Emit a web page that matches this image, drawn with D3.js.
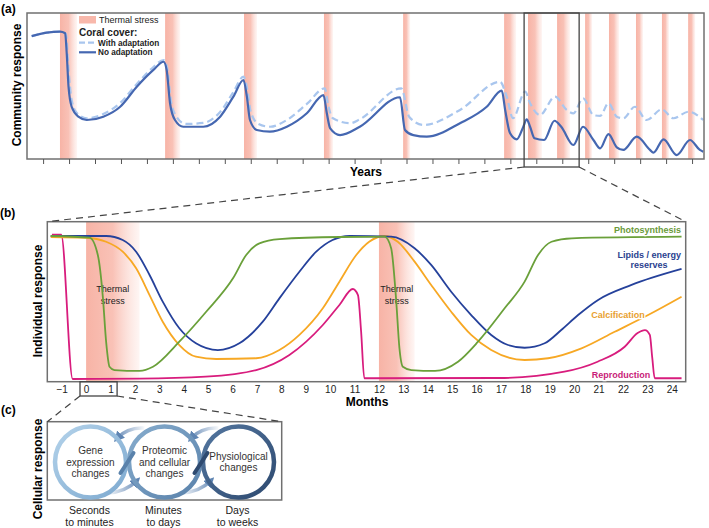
<!DOCTYPE html>
<html>
<head>
<meta charset="utf-8">
<script src="https://cdn.jsdelivr.net/npm/d3@7"></script>
<style>
  body { margin: 0; background: #fff; }
  text { font-family: "Liberation Sans", Arial, sans-serif; }
</style>
</head>
<body>
<svg id="fig" width="709" height="528"></svg>
<script>
// ---------- panel (a): community response over years ----------
const yearTicks = d3.range(0, 26);
// thermal stress events [start, end] in years
const stressYears = [[0.65, 1.31], [4.70, 5.28], [7.74, 8.24], [10.82, 11.17], [13.87, 14.14],
  [17.76, 18.22], [18.68, 19.22], [19.80, 20.30], [20.88, 21.15], [21.80, 22.19],
  [22.84, 23.11], [23.84, 24.11], [24.85, 25.12]];
// coral cover, no adaptation [year, cover]
const noAdaptation = [[-0.44, 84.2], [0.14, 86.5], [0.65, 87.2], [0.85, 86.1], [0.91, 72.4], [0.98, 49.5],
  [1.1, 35.8], [1.36, 29.0], [1.68, 26.7], [2.32, 29.0], [2.97, 35.8], [3.61, 49.5], [4.25, 61.0],
  [4.64, 66.6], [4.76, 61.0], [4.89, 38.2], [5.08, 26.7], [5.4, 22.1], [6.17, 22.1], [6.82, 29.0],
  [7.33, 42.7], [7.72, 54.1], [7.85, 42.7], [7.97, 26.7], [8.23, 19.9], [8.74, 18.7], [9.39, 22.1],
  [10.16, 31.3], [10.8, 43.8], [10.93, 31.3], [11.06, 21.0], [11.44, 16.4], [12.2, 22.1], [13.75, 42.3],
  [13.94, 19.9], [14.26, 16.4], [14.78, 15.3], [16.06, 24.5], [17.09, 35.8], [17.67, 46.8], [17.8, 33.6],
  [17.99, 17.6], [18.25, 13.5], [18.5, 22.1], [18.63, 27.2], [18.76, 22.1], [18.93, 14.2], [19.3, 13.0],
  [19.7, 26.2], [19.96, 22.1], [20.43, 9.6], [20.8, 22.1], [21.2, 13.0], [21.46, 7.3], [21.78, 17.1],
  [22.1, 8.0], [22.35, 6.2], [22.87, 15.3], [23.38, 6.2], [23.51, 4.3], [23.9, 13.5], [24.41, 2.7],
  [24.92, 13.0], [25.3, 6.2], [25.43, 5.0]];
// coral cover, with adaptation [year, cover]
const withAdaptation = [[-0.44, 84.2], [0.14, 86.5], [0.65, 87.2], [0.88, 85.6], [0.98, 61.0], [1.1, 40.4],
  [1.3, 31.5], [1.68, 27.9], [2.32, 30.8], [2.97, 38.4], [3.61, 51.4], [4.25, 63.0], [4.64, 67.8],
  [4.78, 62.3], [4.92, 40.4], [5.1, 30.1], [5.5, 24.0], [6.17, 24.7], [6.82, 32.2], [7.33, 45.9],
  [7.72, 56.4], [7.87, 47.3], [8.0, 32.2], [8.3, 24.0], [8.74, 22.1], [9.39, 26.7], [10.16, 37.7],
  [10.85, 48.4], [10.98, 37.0], [11.15, 28.1], [11.83, 24.5], [12.2, 27.2], [13.8, 48.4], [14.1, 29.0],
  [14.65, 23.3], [16.06, 33.6], [17.6, 52.9], [17.86, 42.7], [18.1, 27.9], [18.57, 46.1], [18.76, 38.2],
  [19.14, 30.1], [19.72, 42.7], [20.17, 33.6], [20.43, 31.3], [20.8, 41.6], [21.2, 30.1], [21.46, 29.5],
  [21.78, 38.2], [22.1, 29.0], [22.35, 27.9], [22.8, 35.8], [23.25, 26.7], [23.83, 34.0], [24.28, 27.9],
  [24.86, 32.4], [25.43, 26.7]];
const zoomYears = [18.53, 20.65];

// ---------- panel (b): individual response over months ----------
const monthTicks = d3.range(-1, 25);
const stressMonths = [[0, 2.19], [12, 13.46]];
const photosynthesis = [[-1.45, 100], [0.14, 98.8], [0.48, 86.8], [0.69, 56.9], [0.82, 26.6], [0.96, 9.2],
  [1.16, 6.9], [2.19, 6.3], [2.74, 9.2], [3.82, 26.6], [4.92, 47.4], [6.02, 70.6], [6.56, 86.8],
  [7.1, 94.9], [7.92, 97.9], [10.4, 99.3], [12.23, 99.5], [12.5, 91.5], [12.7, 56.7], [12.84, 22.0],
  [12.98, 9.2], [13.33, 6.9], [14.3, 6.3], [15.24, 12.7], [16.06, 26.6], [17.15, 49.8], [17.97, 68.3],
  [18.52, 86.8], [19.07, 96.0], [19.9, 98.4], [24.4, 99.5]];
const lipids = [[-1.45, 100], [0.82, 100], [1.5, 97.2], [2.05, 89.1], [2.6, 72.9], [3.14, 54.4],
  [3.82, 35.9], [4.5, 25.5], [5.4, 20.8], [6.28, 25.5], [7.24, 40.5], [7.92, 56.7], [8.74, 75.2],
  [9.43, 89.1], [10.1, 97.2], [10.8, 100], [12.5, 99.5], [13.46, 91.5], [14.14, 79.9], [14.96, 61.3],
  [15.78, 45.1], [16.6, 31.3], [17.29, 24.3], [17.97, 22.4], [18.79, 25.5], [19.47, 34.7],
  [20.16, 45.1], [20.98, 55.6], [22.35, 66.0], [24.4, 77.1]];
const calcification = [[-1.45, 99.3], [0, 98.8], [0.82, 96.0], [1.5, 89.1], [2.05, 77.6], [2.6, 59.0],
  [3.14, 40.5], [3.82, 24.3], [4.5, 16.2], [5.33, 14.6], [6.97, 15.1], [7.92, 20.8], [8.74, 31.3],
  [9.7, 49.8], [10.38, 68.3], [11.07, 86.8], [11.6, 96.0], [12.23, 100], [12.77, 96.0], [13.46, 82.2],
  [14.14, 66.0], [14.96, 47.4], [15.78, 31.3], [16.6, 20.8], [17.97, 13.9], [18.93, 15.1],
  [20.3, 22.0], [21.66, 33.5], [23.03, 45.1], [24.4, 57.8]];
const reproduction = [[-1.4, 101], [-1.02, 101], [-0.55, 0.7], [2.19, 0.9], [4.9, 2.3], [6.97, 6.9],
  [8.33, 17.4], [9.7, 38.2], [10.38, 52.1], [10.93, 63.2], [11.14, 59.0], [11.27, 33.5], [11.4, 1.2],
  [16.9, 1.4], [19.6, 5.8], [20.96, 12.7], [22.07, 23.1], [22.6, 32.6], [22.9, 34.7], [23.1, 31.3],
  [23.2, 15.3], [23.3, 1.2], [24.4, 1.2]];
const zoomMonths = [-0.25, 1.27];

// ---------- panel (c): cellular response ----------
const cellSteps = [["Gene", "expression", "changes"], ["Proteomic", "and cellular", "changes"],
  ["Physiological", "changes"]];
const cellTimes = [["Seconds", "to minutes"], ["Minutes", "to days"], ["Days", "to weeks"]];

const svg = d3.select("#fig");
const defs = svg.append("defs");

const heat = defs.append("linearGradient").attr("id", "heat");
heat.append("stop").attr("offset", 0).attr("stop-color", "#f6a696").attr("stop-opacity", 0.85);
heat.append("stop").attr("offset", 0.5).attr("stop-color", "#f7ad9e").attr("stop-opacity", 0.75);
heat.append("stop").attr("offset", 1).attr("stop-color", "#fbcfc5").attr("stop-opacity", 0.2);

const grey = "#707070";

// ===== (a) =====
const A = { l: 27, r: 704, t: 13, b: 159 };
const xA = d3.scaleLinear().domain([-0.62, 25.46]).range([A.l, A.r]);
const yA = d3.scaleLinear().domain([0, 100]).range([A.b, A.t]);

svg.append("g").selectAll("rect").data(stressYears).join("rect")
  .attr("x", d => xA(d[0])).attr("width", d => xA(d[1]) - xA(d[0]))
  .attr("y", A.t).attr("height", A.b - A.t)
  .attr("fill", "url(#heat)");

const lineA = d3.line().x(d => xA(d[0])).y(d => yA(d[1])).curve(d3.curveMonotoneX);
svg.append("path").attr("d", lineA(withAdaptation)).attr("fill", "none")
  .attr("stroke", "#a9c6ee").attr("stroke-width", 2.2).attr("stroke-dasharray", "7,4");
svg.append("path").attr("d", lineA(noAdaptation)).attr("fill", "none")
  .attr("stroke", "#4567b1").attr("stroke-width", 2.2);

svg.append("rect").attr("x", A.l).attr("y", A.t).attr("width", A.r - A.l).attr("height", A.b - A.t)
  .attr("fill", "none").attr("stroke", grey).attr("stroke-width", 1.5);

const axA = svg.append("g").attr("transform", `translate(0,${A.b})`)
  .call(d3.axisBottom(xA).tickValues(yearTicks).tickSize(5).tickFormat(""));
axA.select(".domain").remove();
axA.selectAll("line").attr("stroke", "#555");

// zoom window
svg.append("rect").attr("x", xA(zoomYears[0])).attr("y", A.t)
  .attr("width", xA(zoomYears[1]) - xA(zoomYears[0])).attr("height", 167 - A.t)
  .attr("fill", "none").attr("stroke", "#444").attr("stroke-width", 1.3);

// legend
const lg = svg.append("g");
lg.append("rect").attr("x", 79).attr("y", 16).attr("width", 17).attr("height", 7.5).attr("fill", "#f8b8ab");
lg.append("text").attr("x", 99).attr("y", 23).attr("font-size", 9).attr("fill", "#222").text("Thermal stress");
lg.append("text").attr("x", 79).attr("y", 35.5).attr("font-size", 10).attr("font-weight", "bold").attr("fill", "#222").text("Coral cover:");
lg.append("line").attr("x1", 79).attr("x2", 96).attr("y1", 42.7).attr("y2", 42.7)
  .attr("stroke", "#a9c6ee").attr("stroke-width", 2.2).attr("stroke-dasharray", "6,3");
lg.append("text").attr("x", 98).attr("y", 45.8).attr("font-size", 8.2).attr("font-weight", "bold").attr("fill", "#222").text("With adaptation");
lg.append("line").attr("x1", 79).attr("x2", 96).attr("y1", 52.3).attr("y2", 52.3)
  .attr("stroke", "#4567b1").attr("stroke-width", 2.2);
lg.append("text").attr("x", 98).attr("y", 55.4).attr("font-size", 8.2).attr("font-weight", "bold").attr("fill", "#222").text("No adaptation");

svg.append("text").attr("x", 1).attr("y", 13).attr("font-size", 12).attr("font-weight", "bold").text("(a)");
svg.append("text").attr("transform", "translate(20.5,85) rotate(-90)").attr("text-anchor", "middle")
  .attr("font-size", 12).attr("font-weight", "bold").text("Community response");
svg.append("text").attr("x", 366).attr("y", 176).attr("text-anchor", "middle")
  .attr("font-size", 12).attr("font-weight", "bold").text("Years");

// ===== (b) =====
const B = { l: 47.3, r: 685.7, t: 221.7, b: 381.7 };
const xB = d3.scaleLinear().domain([-1.59, 24.57]).range([B.l, B.r]);
const yB = d3.scaleLinear().domain([0, 100]).range([380, 236]);

svg.append("g").selectAll("rect").data(stressMonths).join("rect")
  .attr("x", d => xB(d[0])).attr("width", d => xB(d[1]) - xB(d[0]))
  .attr("y", B.t).attr("height", B.b - B.t)
  .attr("fill", "url(#heat)");

svg.append("g").selectAll("g").data(stressMonths).join("text")
  .attr("text-anchor", "middle").attr("font-size", 9).attr("fill", "#222")
  .attr("transform", d => `translate(${xB((d[0] + d[1]) / 2)},0)`)
  .call(t => {
    t.append("tspan").attr("x", 0).attr("y", 292).text("Thermal");
    t.append("tspan").attr("x", 0).attr("y", 303.5).text("stress");
  });

const lineB = d3.line().x(d => xB(d[0])).y(d => yB(d[1])).curve(d3.curveMonotoneX);
const seriesB = [
  { data: reproduction, color: "#d81c7d" },
  { data: calcification, color: "#f7a824" },
  { data: lipids, color: "#25419b" },
  { data: photosynthesis, color: "#6aa03a" }
];
svg.append("g").selectAll("path").data(seriesB).join("path")
  .attr("d", d => lineB(d.data)).attr("fill", "none")
  .attr("stroke", d => d.color).attr("stroke-width", 1.8);

svg.append("rect").attr("x", B.l).attr("y", B.t).attr("width", B.r - B.l).attr("height", B.b - B.t)
  .attr("fill", "none").attr("stroke", grey).attr("stroke-width", 1.5);

const axB = svg.append("g").attr("transform", `translate(0,${B.b})`)
  .call(d3.axisBottom(xB).tickValues(monthTicks).tickSize(0).tickPadding(4));
axB.select(".domain").remove();
axB.selectAll("text").attr("font-size", 10).attr("fill", "#222")
  .attr("font-family", "'Liberation Sans', Arial, sans-serif");

const labB = svg.append("g").attr("font-size", 9).attr("font-weight", "bold")
  .attr("stroke", "#fff").attr("stroke-width", 2.5).attr("paint-order", "stroke");
labB.append("text").attr("x", 681).attr("y", 232.5).attr("text-anchor", "end").attr("fill", "#6a9a3a").text("Photosynthesis");
labB.append("text").attr("x", 681).attr("y", 257.5).attr("text-anchor", "end").attr("fill", "#2a3f8f").text("Lipids / energy");
labB.append("text").attr("x", 649).attr("y", 268).attr("text-anchor", "middle").attr("fill", "#2a3f8f").text("reserves");
labB.append("text").attr("x", 618).attr("y", 318).attr("text-anchor", "middle").attr("fill", "#e8a02e").text("Calcification");
labB.append("text").attr("x", 621).attr("y", 377.5).attr("text-anchor", "middle").attr("fill", "#c81c78").text("Reproduction");

svg.append("rect").attr("x", xB(zoomMonths[0])).attr("y", B.b)
  .attr("width", xB(zoomMonths[1]) - xB(zoomMonths[0])).attr("height", 396 - B.b)
  .attr("fill", "none").attr("stroke", "#444").attr("stroke-width", 1.3);

svg.append("text").attr("x", 367).attr("y", 406).attr("text-anchor", "middle")
  .attr("font-size", 12).attr("font-weight", "bold").text("Months");
svg.append("text").attr("x", 0).attr("y", 217).attr("font-size", 12).attr("font-weight", "bold").text("(b)");
svg.append("text").attr("transform", "translate(42,301) rotate(-90)").attr("text-anchor", "middle")
  .attr("font-size", 12).attr("font-weight", "bold").text("Individual response");

// ===== (c) =====
const C = { l: 47.3, r: 281.7, t: 421.7, b: 500 };
const xC = d3.scalePoint().domain(d3.range(cellSteps.length)).range([90.5, 238.5]);
const cyC = 462, rC = 35.5;
const ringColors = [["#b3d2ea", "#7eaad0"], ["#86accd", "#5a82ab"], ["#53769f", "#2e4a70"]];

ringColors.forEach((c, i) => {
  const g = defs.append("linearGradient").attr("id", "ring" + i)
    .attr("x1", 0).attr("y1", 0).attr("x2", 1).attr("y2", 1);
  g.append("stop").attr("offset", 0).attr("stop-color", c[0]);
  g.append("stop").attr("offset", 1).attr("stop-color", c[1]);
});

svg.append("rect").attr("x", C.l).attr("y", C.t).attr("width", C.r - C.l).attr("height", C.b - C.t)
  .attr("fill", "#fff").attr("stroke", grey).attr("stroke-width", 1.5);

// arrows between rings
const arrowDef = defs.append("marker").attr("id", "ah").attr("viewBox", "0 0 10 10")
  .attr("refX", 5).attr("refY", 5).attr("markerWidth", 3).attr("markerHeight", 3)
  .attr("orient", "auto-start-reverse");
arrowDef.append("path").attr("d", "M0,0L10,5L0,10Z").attr("fill", "#5f85b3");

[0, 1].forEach(i => {
  const a = xC(i), b = xC(i + 1), m = (a + b) / 2;
  const gTop = defs.append("linearGradient").attr("id", "at" + i).attr("gradientUnits", "userSpaceOnUse")
    .attr("x1", m + 17).attr("y1", 0).attr("x2", m - 10).attr("y2", 0);
  gTop.append("stop").attr("offset", 0).attr("stop-color", "#5f85b3").attr("stop-opacity", 0.05);
  gTop.append("stop").attr("offset", 1).attr("stop-color", "#5f85b3").attr("stop-opacity", 0.9);
  svg.append("path").attr("d", `M${m + 17},${cyC - 34} Q${m},${cyC - 35} ${m - 10},${cyC - 24}`)
    .attr("fill", "none").attr("stroke", `url(#at${i})`).attr("stroke-width", 3.5).attr("marker-end", "url(#ah)");
  const gBot = defs.append("linearGradient").attr("id", "ab" + i).attr("gradientUnits", "userSpaceOnUse")
    .attr("x1", m - 20).attr("y1", 0).attr("x2", m + 10).attr("y2", 0);
  gBot.append("stop").attr("offset", 0).attr("stop-color", "#5f85b3").attr("stop-opacity", 0.05);
  gBot.append("stop").attr("offset", 1).attr("stop-color", "#5f85b3").attr("stop-opacity", 0.9);
  svg.append("path").attr("d", `M${m - 20},${cyC + 31} Q${m - 2},${cyC + 30} ${m + 9},${cyC + 19}`)
    .attr("fill", "none").attr("stroke", `url(#ab${i})`).attr("stroke-width", 3.5).attr("marker-end", "url(#ah)");
});

svg.append("g").selectAll("circle").data(cellSteps).join("circle")
  .attr("cx", (d, i) => xC(i)).attr("cy", cyC).attr("r", rC)
  .attr("fill", "none").attr("stroke", (d, i) => `url(#ring${i})`).attr("stroke-width", 4.5);

// crossing links between rings
[0, 1].forEach(i => {
  const m = (xC(i) + xC(i + 1)) / 2;
  svg.append("path").attr("d", `M${m - 7},${cyC + 11} L${m + 6},${cyC - 9}`)
    .attr("stroke", ringColors[i + 1][1]).attr("stroke-width", 4).attr("stroke-linecap", "round");
});

svg.append("g").selectAll("text").data(cellSteps).join("text")
  .attr("text-anchor", "middle").attr("font-size", 10).attr("fill", "#333")
  .each(function (d, i) {
    const t = d3.select(this);
    const off = (d.length - 1) / 2;
    d.forEach((s, k) => t.append("tspan").attr("x", xC(i)).attr("y", cyC + (k - off) * 11.6 + 3.5).text(s));
  });

svg.append("g").selectAll("text").data(cellTimes).join("text")
  .attr("text-anchor", "middle").attr("font-size", 10.5).attr("fill", "#222")
  .each(function (d, i) {
    const t = d3.select(this);
    d.forEach((s, k) => t.append("tspan").attr("x", xC(i) - 1).attr("y", 513.5 + k * 12.5).text(s));
  });

svg.append("text").attr("x", 1).attr("y", 414).attr("font-size", 12).attr("font-weight", "bold").text("(c)");
svg.append("text").attr("transform", "translate(42,469) rotate(-90)").attr("text-anchor", "middle")
  .attr("font-size", 12).attr("font-weight", "bold").text("Cellular response");

// ===== dashed connectors =====
const links = [
  [xA(zoomYears[0]), 167, B.l, B.t],
  [xA(zoomYears[1]), 167, B.r, B.t],
  [xB(zoomMonths[0]), 396, C.l, C.t],
  [xB(zoomMonths[1]), 396, C.r, C.t]
];
svg.append("g").selectAll("line").data(links).join("line")
  .attr("x1", d => d[0]).attr("y1", d => d[1]).attr("x2", d => d[2]).attr("y2", d => d[3])
  .attr("stroke", "#444").attr("stroke-width", 1.2).attr("stroke-dasharray", "7,5");
</script>
</body>
</html>
